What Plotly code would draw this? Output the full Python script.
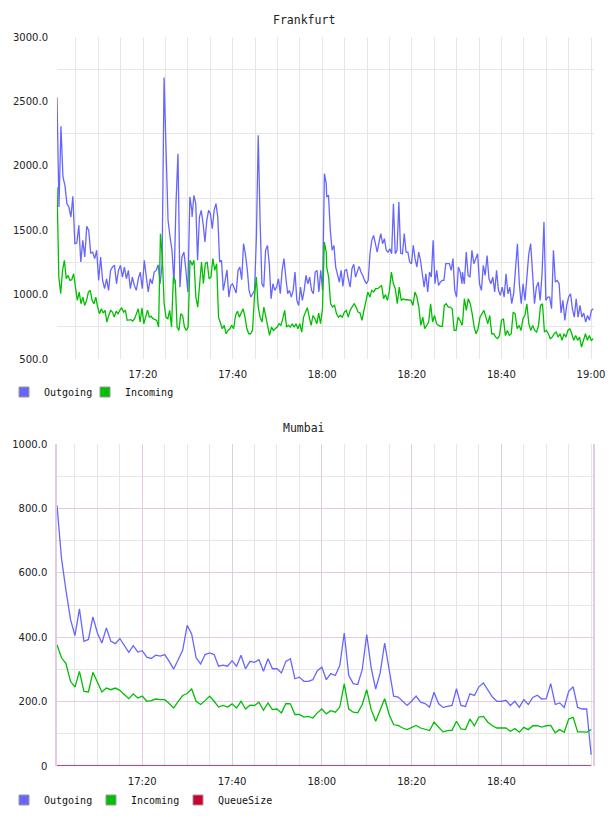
import plotly.graph_objects as go
import pandas as pd

W, H = 608, 816

# ---------------- Frankfurt data ----------------
# segment time bounds (minutes after 17:00); samples are evenly spaced within each segment
fra_seg_start = [0.8, 30.95, 61.0, 91.3]
fra_seg_end = [30.9, 60.9, 91.2, 120.5]

fra_out_1 = [2530, 1680, 2307, 1913, 1848, 1706, 1680, 1602, 1763, 1395, 1400, 1538, 1253, 1421, 1292, 1530,
             1499, 1323, 1330, 1279, 1344, 1110, 1292, 1110, 1046, 1123, 1033, 1188, 1214, 1227, 1084, 1188,
             1227, 1136, 1214, 1123, 1188, 1046, 1136, 1071, 1033, 1123, 1175, 1046, 1266, 1123, 1020, 1123,
             1084, 1175, 1188, 1232, 1084, 1240, 2685, 2120, 1577, 1447, 1344, 1084, 1706, 2094, 1058, 1292,
             1330, 1188, 1020, 1758, 1654]
fra_out_2 = [1602, 1771, 1706, 1266, 1602, 1654, 1551, 1408, 1577, 1654, 1628, 1512, 1654, 1706, 1602, 1253,
             1266, 1033, 1110, 1193, 981, 1071, 1084, 1046, 1012, 1188, 1214, 1116, 1395, 1317, 1201, 1033,
             981, 1007, 1033, 1447, 2237, 1577, 1084, 1058, 1344, 1382, 1240, 968, 1084, 1033, 1058, 1123,
             1007, 1188, 1279, 1136, 1007, 1033, 981, 1033, 1175, 955, 916, 1058, 955, 1033, 1149, 1084,
             1136, 1033, 1007, 1175, 1188, 1020, 1188, 1033, 1939, 1862]
fra_out_3 = [1758, 1771, 1499, 1344, 1382, 1214, 1162, 1097, 1188, 1064, 1188, 1193, 1123, 1058, 1201, 1235,
             1136, 1188, 1219, 1175, 1149, 1110, 1084, 1110, 1317, 1421, 1460, 1395, 1330, 1408, 1473, 1395,
             1434, 1344, 1330, 1356, 1317, 1706, 1317, 1344, 1719, 1323, 1317, 1473, 1330, 1330, 1253, 1240,
             1382, 1279, 1214, 1330, 1266, 1162, 1058, 1162, 1020, 1175, 1136, 1421, 1084, 1188, 1071, 1097,
             1110, 1110, 1240, 1240, 1240, 1188, 1279, 1033, 981, 1214, 1175, 1084]
fra_out_4 = [1175, 1084, 1330, 1149, 1136, 1344, 1240, 1279, 1317, 1084, 1033, 1227, 1149, 1304, 1123, 1084,
             1136, 1020, 1188, 1033, 994, 1058, 981, 1162, 1007, 1058, 929, 1007, 1188, 1395, 1084, 929,
             1084, 955, 1136, 1317, 1395, 1136, 929, 1058, 1097, 955, 1162, 1564, 955, 981, 981, 890,
             1344, 1097, 1110, 1084, 857, 955, 800, 916, 981, 1007, 890, 825, 968, 825, 916, 825,
             857, 787, 838, 800, 877, 890]

fra_in_1 = [1836, 1136, 1007, 1188, 1266, 1123, 1149, 1110, 1116, 1162, 1058, 955, 1020, 929, 981, 916,
            955, 1020, 1033, 955, 929, 981, 903, 851, 890, 857, 877, 787, 838, 877, 864, 825,
            871, 851, 877, 898, 864, 880, 800, 800, 805, 795, 813, 851, 890, 787, 898, 774,
            825, 880, 825, 831, 813, 805, 800, 748, 1473, 1292, 929, 825, 813, 877, 748, 1136,
            1110, 748, 722, 851, 838, 748, 722, 748, 1266, 1240]
fra_in_2 = [1227, 1266, 981, 903, 1084, 1253, 1084, 1240, 1253, 1123, 1136, 1279, 1188, 1240, 825, 774,
            735, 761, 696, 722, 735, 761, 735, 838, 871, 825, 864, 890, 825, 735, 696, 696,
            722, 981, 1136, 903, 825, 787, 903, 825, 761, 683, 748, 722, 735, 748, 774, 761,
            813, 877, 748, 761, 748, 774, 748, 774, 735, 774, 709, 825, 864, 898, 825, 761,
            838, 813, 774, 857, 774, 890, 1408, 1330]
fra_in_3 = [1214, 1136, 929, 903, 916, 851, 825, 838, 825, 864, 877, 825, 880, 903, 929, 903,
            864, 857, 800, 877, 955, 1020, 981, 1033, 1020, 1046, 1046, 1058, 1071, 968, 1000, 955,
            1033, 1175, 1084, 1046, 929, 1058, 955, 968, 960, 960, 960, 955, 916, 1020, 981, 903,
            761, 825, 735, 761, 787, 929, 787, 838, 774, 761, 753, 753, 916, 929, 903, 903,
            890, 722, 722, 825, 800, 761]
fra_in_4 = [774, 968, 877, 968, 929, 851, 748, 696, 735, 825, 851, 877, 825, 774, 838, 696,
            696, 670, 658, 683, 800, 813, 683, 722, 683, 696, 864, 851, 735, 761, 722, 813,
            838, 929, 774, 722, 761, 722, 709, 761, 916, 929, 709, 722, 696, 658, 670, 696,
            709, 670, 696, 645, 696, 670, 722, 735, 696, 645, 683, 645, 670, 593, 645, 696,
            645, 683, 645, 658]

# ---------------- Mumbai data (one sample per minute, 17:01 .. 19:00) ----------------
mum_start_minute = 1
mum_out = [810, 645, 545, 456, 405, 488, 387, 393, 463, 413, 382, 429, 387, 380, 396, 374,
           353, 374, 354, 358, 338, 334, 344, 341, 346, 325, 301, 330, 359, 437, 410, 336,
           317, 346, 351, 346, 310, 313, 310, 327, 310, 344, 302, 325, 322, 330, 294, 333,
           302, 302, 289, 325, 333, 271, 276, 263,
           263, 268, 296, 307, 268, 287, 281, 312, 413, 281, 256, 253, 299, 408, 305, 239,
           289, 382, 294, 217, 214, 201, 188, 201, 217, 198, 194, 183, 229, 194, 182, 185,
           188, 240, 188, 185, 224, 219, 246, 258, 237, 214, 201, 201, 204, 188, 201, 182,
           206, 191, 213, 220, 208, 209, 256, 191, 196, 182, 232, 246, 182, 177, 177, 35]
mum_in = [377, 336, 318, 263, 245, 294, 232, 230, 291, 258, 230, 242, 237, 242, 235, 222,
          209, 224, 211, 217, 201, 203, 208, 206, 206, 194, 180, 201, 219, 225, 239, 201,
          191, 203, 217, 201, 183, 188, 183, 193, 180, 201, 177, 189, 188, 198, 173, 196,
          175, 177, 165, 194, 193, 160, 160, 152,
          154, 149, 165, 177, 162, 172, 167, 183, 255, 177, 167, 165, 191, 237, 175, 139,
          175, 209, 160, 128, 126, 118, 113, 120, 126, 118, 113, 110, 136, 121, 106, 110,
          111, 139, 115, 113, 146, 125, 152, 154, 136, 125, 118, 118, 118, 108, 116, 105,
          120, 113, 125, 125, 121, 125, 126, 103, 113, 105, 146, 151, 106, 106, 105, 113]
mum_queue = [0] * len(mum_out)

fra_yticks = [500, 1000, 1500, 2000, 2500, 3000]
fra_ygrid = [750, 1250, 1750, 2250, 2750]
mum_yticks = [0, 200, 400, 600, 800, 1000]
mum_yticktext = ["0", "200.0", "400.0", "600.0", "800.0", "1000.0"]
mum_xticks = ["2024-01-01 17:20", "2024-01-01 17:40", "2024-01-01 18:00",
              "2024-01-01 18:20", "2024-01-01 18:40"]

BASE = pd.Timestamp("2024-01-01 17:00:00")


def seg_times(segs, starts, ends):
    out = []
    for vals, s, e in zip(segs, starts, ends):
        n = len(vals)
        step = (e - s) / (n - 1)
        out += [BASE + pd.Timedelta(minutes=s + i * step) for i in range(n)]
    return out


fra_out_t = seg_times([fra_out_1, fra_out_2, fra_out_3, fra_out_4], fra_seg_start, fra_seg_end)
fra_out = fra_out_1 + fra_out_2 + fra_out_3 + fra_out_4
fra_in_t = seg_times([fra_in_1, fra_in_2, fra_in_3, fra_in_4], fra_seg_start, fra_seg_end)
fra_in = fra_in_1 + fra_in_2 + fra_in_3 + fra_in_4
mum_t = [BASE + pd.Timedelta(minutes=mum_start_minute + i) for i in range(len(mum_out))]

BLUE = "#6666ff"
GREEN = "#00bf00"
RED = "#cc0033"
GRID = "#e6e6e6"
PGRID = "#e2cce2"
TICKFONT = dict(family="DejaVu Sans", size=10, color="#222")
MONO = "DejaVu Sans Mono"

fig = go.Figure()
fig.add_trace(go.Scatter(x=fra_out_t, y=fra_out, mode="lines", line=dict(color=BLUE, width=1.3),
                         xaxis="x", yaxis="y", showlegend=False))
fig.add_trace(go.Scatter(x=fra_in_t, y=fra_in, mode="lines", line=dict(color=GREEN, width=1.3),
                         xaxis="x", yaxis="y", showlegend=False))
fig.add_trace(go.Scatter(x=mum_t, y=mum_out, mode="lines", line=dict(color=BLUE, width=1.3),
                         xaxis="x2", yaxis="y2", showlegend=False))
fig.add_trace(go.Scatter(x=mum_t, y=mum_in, mode="lines", line=dict(color=GREEN, width=1.3),
                         xaxis="x2", yaxis="y2", showlegend=False))
fig.add_trace(go.Scatter(x=mum_t, y=mum_queue, mode="lines", line=dict(color=RED, width=1.5),
                         xaxis="x2", yaxis="y2", showlegend=False, cliponaxis=False))

# legend swatches (plus an invisible spacer entry so the last label is not clipped)
for name, col, lg, ax in [("Outgoing", BLUE, "legend", "y"), ("Incoming", GREEN, "legend", "y"),
                          ("", "rgba(0,0,0,0)", "legend", "y"),
                          ("Outgoing", BLUE, "legend2", "y2"), ("Incoming", GREEN, "legend2", "y2"),
                          ("QueueSize", RED, "legend2", "y2"),
                          ("", "rgba(0,0,0,0)", "legend2", "y2")]:
    fig.add_trace(go.Scatter(x=[None], y=[None], mode="markers", name=name, legend=lg,
                             xaxis="x" if ax == "y" else "x2", yaxis=ax, hoverinfo="skip",
                             marker=dict(symbol="square", size=10, color=col,
                                         line=dict(color="#999999" if name else "rgba(0,0,0,0)",
                                                   width=1))))

x0 = 57 / W
fra_dom = [1 - 359 / H, 1 - 37 / H]
mum_dom = [1 - 766 / H, 1 - 444 / H]

xcommon = dict(type="date", tickformat="%H:%M", ticks="outside", ticklen=6,
               tickcolor="rgba(0,0,0,0)", tickfont=TICKFONT, zeroline=False, showline=False,
               fixedrange=True, automargin=False)

fig.update_layout(
    width=W, height=H, margin=dict(l=0, r=0, t=0, b=0, autoexpand=False),
    paper_bgcolor="white", plot_bgcolor="white",
    xaxis=dict(domain=[x0, 594 / W], anchor="y",
               range=["2024-01-01 17:00:48", "2024-01-01 19:00:40"],
               dtick=20 * 60 * 1000, tick0="2024-01-01 17:00:00",
               showgrid=True, gridcolor=GRID, gridwidth=1,
               minor=dict(dtick=5 * 60 * 1000, tick0="2024-01-01 17:00:00", showgrid=True,
                          gridcolor=GRID, gridwidth=1, ticklen=0),
               **xcommon),
    yaxis=dict(domain=fra_dom, anchor="x", range=[500, 3000], tickmode="array",
               tickvals=fra_yticks, tickformat=".1f", showgrid=False, zeroline=False,
               ticks="outside", ticklen=6, tickcolor="rgba(0,0,0,0)", tickfont=TICKFONT,
               minor=dict(tickmode="array", tickvals=fra_ygrid, showgrid=True, gridcolor=GRID,
                          gridwidth=1, ticklen=0),
               fixedrange=True, automargin=False),
    xaxis2=dict(domain=[x0, 593 / W], anchor="y2",
                range=["2024-01-01 17:01:00", "2024-01-01 19:00:25"],
                tickmode="array", tickvals=mum_xticks,
                showgrid=True, gridcolor=PGRID, gridwidth=1,
                minor=dict(dtick=5 * 60 * 1000, tick0="2024-01-01 17:00:00", showgrid=True,
                           gridcolor=GRID, gridwidth=1, ticklen=0),
                **xcommon),
    yaxis2=dict(domain=mum_dom, anchor="x2", range=[0, 1000], tickmode="array",
                tickvals=mum_yticks, ticktext=mum_yticktext, showgrid=True, gridcolor=PGRID,
                zeroline=False, showline=True, mirror=True, linecolor=PGRID, linewidth=1.5,
                ticks="outside", ticklen=6, tickcolor="rgba(0,0,0,0)", tickfont=TICKFONT,
                minor=dict(dtick=100, showgrid=True, gridcolor=GRID, gridwidth=1, ticklen=0),
                fixedrange=True, automargin=False),
    legend=dict(orientation="h", x=4 / W, xanchor="left", y=1 - 392 / H, yanchor="middle",
                font=dict(family=MONO, size=10, color="#111"), entrywidth=36,
                entrywidthmode="pixels", itemwidth=30, bgcolor="rgba(0,0,0,0)"),
    legend2=dict(orientation="h", x=4 / W, xanchor="left", y=1 - 800 / H, yanchor="middle",
                 font=dict(family=MONO, size=10, color="#111"), entrywidth=42,
                 entrywidthmode="pixels", itemwidth=30, bgcolor="rgba(0,0,0,0)"),
    annotations=[
        dict(text="Frankfurt", x=0.5, y=1 - 20 / H, xref="paper", yref="paper", showarrow=False,
             font=dict(family=MONO, size=11.5, color="#222"), xanchor="center", yanchor="middle"),
        dict(text="Mumbai", x=0.5, y=1 - 428 / H, xref="paper", yref="paper", showarrow=False,
             font=dict(family=MONO, size=11.5, color="#222"), xanchor="center", yanchor="middle"),
    ],
)

fig.write_html("out.html")
